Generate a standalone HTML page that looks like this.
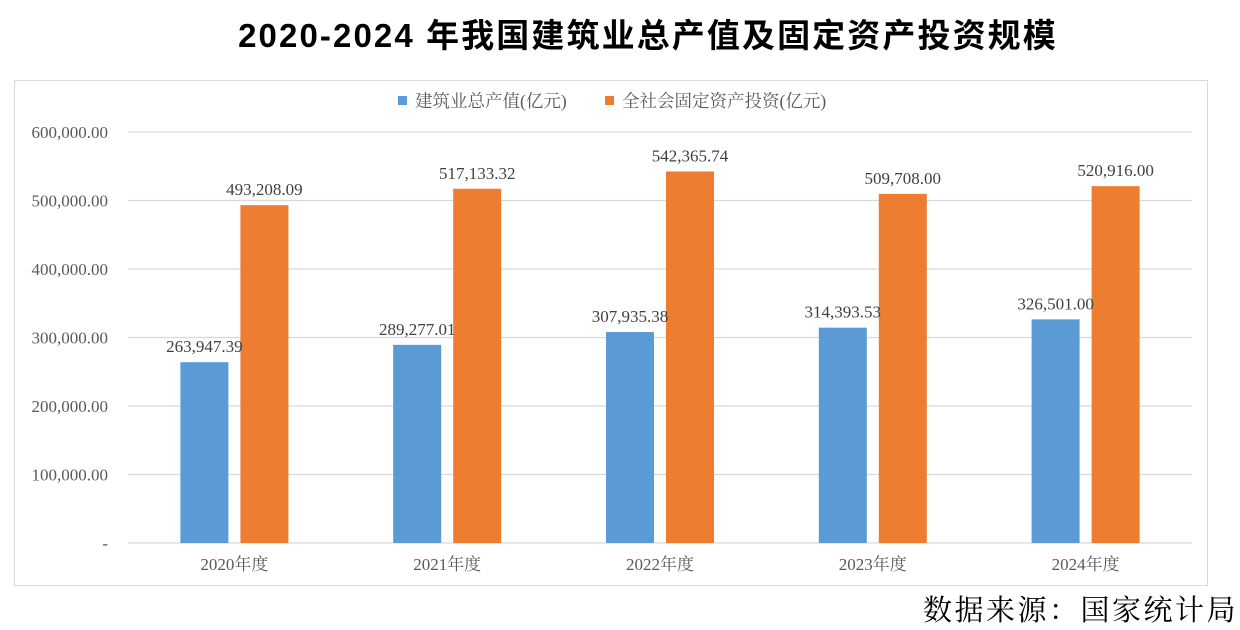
<!DOCTYPE html>
<html><head><meta charset="utf-8"><style>
body{margin:0;width:1240px;height:630px;background:#fff;overflow:hidden;font-family:"Liberation Serif","Noto Serif CJK SC",serif}
#title{position:absolute;left:28px;width:1240px;top:9px;text-align:center;font:bold 33px "Liberation Sans","Noto Sans CJK SC",sans-serif;letter-spacing:2.1px;color:#000}
#src{position:absolute;right:2px;top:588px;font:29px "Liberation Serif","Noto Serif CJK SC",serif;letter-spacing:2.5px;color:#000}
svg{position:absolute;left:0;top:0}
</style></head><body>
<div id="title">2020-2024 年我国建筑业总产值及固定资产投资规模</div>
<svg id="chart" width="1240" height="630"></svg>
<div id="src">数据来源：国家统计局</div>
<script>
const categories=["2020年度","2021年度","2022年度","2023年度","2024年度"];
const construction=[263947.39,289277.01,307935.38,314393.53,326501.00];
const investment=[493208.09,517133.32,542365.74,509708.00,520916.00];
const ticks=[0,100000,200000,300000,400000,500000,600000];
const seriesNames=["建筑业总产值(亿元)","全社会固定资产投资(亿元)"];
const NS="http://www.w3.org/2000/svg";
const svg=document.getElementById('chart');
const x0=128,x1=1192,y0=543,y1=132,yMax=600000;
const y=v=>y0-(v/yMax)*(y0-y1);
const band=(x1-x0)/categories.length;
const cx=i=>x0+band*(i+0.5);
function mk(t,a,txt){const e=document.createElementNS(NS,t);for(const k in a)e.setAttribute(k,a[k]);if(txt!==undefined)e.textContent=txt;svg.appendChild(e);return e;}
const fmt=v=>v.toLocaleString('en-US',{minimumFractionDigits:2,maximumFractionDigits:2});
let e=mk('rect',{x:14.5,y:80.5,width:1193,height:505,fill:'none',stroke:'#d9d9d9'});


ticks.forEach(t=>{
  let g=mk('line',{x1:x0,x2:x1,y1:y(t),y2:y(t),stroke:'#d9d9d9','stroke-width':1.3});
  
  
  let l=mk('text',{x:108,y:y(t)+6,'text-anchor':'end','font-size':17,fill:'#595959'},t===0?'-':fmt(t));
  
  
});
categories.forEach((c,i)=>{
  const bw=48;
  const bx=cx(i)-54, ox=cx(i)+6;
  let b=mk('rect',{x:bx,y:y(construction[i]),width:bw,height:y0-y(construction[i]),fill:'#5b9bd5'});
  
  
  let o=mk('rect',{x:ox,y:y(investment[i]),width:bw,height:y0-y(investment[i]),fill:'#ed7d31'});
  
  
  let t1=mk('text',{x:bx+bw/2,y:y(construction[i])-10,'text-anchor':'middle','font-size':17,fill:'#404040'},fmt(construction[i]));
  
  
  let t2=mk('text',{x:ox+bw/2,y:y(investment[i])-10,'text-anchor':'middle','font-size':17,fill:'#404040'},fmt(investment[i]));
  
  
  let xl=mk('text',{x:cx(i),y:570,'text-anchor':'middle','font-size':17,fill:'#595959'},c);
  
  
});
const legX=[398,605],cols=['#5b9bd5','#ed7d31'];
seriesNames.forEach((n,i)=>{
  let s=mk('rect',{x:legX[i],y:96,width:9,height:9,fill:cols[i]});
  
  
  let t=mk('text',{x:legX[i]+17,y:107,'font-size':17.5,fill:'#595959'},n);
  
  
});
</script>
</body></html>
